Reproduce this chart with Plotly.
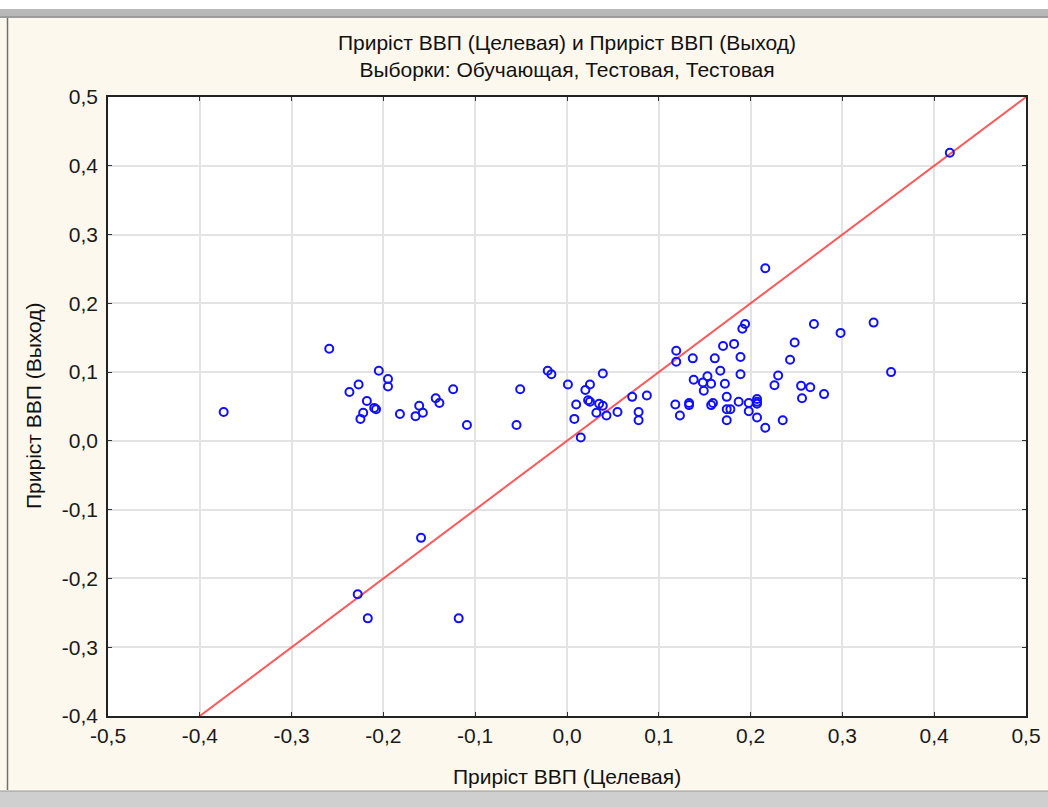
import plotly.graph_objects as go

# Target (x) and network output (y) values
target = [-0.374, -0.259, -0.205, -0.195, -0.195, -0.227, -0.237, -0.218, -0.210, -0.208,
          -0.222, -0.225, -0.182, -0.161, -0.165, -0.157, -0.143, -0.139, -0.124, -0.109,
          -0.051, -0.055, -0.021, -0.017, 0.001, 0.010, 0.008, 0.015, 0.025, 0.020,
          0.039, 0.023, 0.025, 0.035, 0.039, 0.032, 0.043, 0.055, 0.071, 0.087,
          0.078, 0.078, 0.119, 0.119, 0.118, 0.123, 0.216, 0.194, 0.191, 0.269,
          0.334, 0.298, 0.248, 0.243, 0.230, 0.226, 0.255, 0.265, 0.280, 0.256,
          0.235, 0.216, 0.207, 0.207, 0.207, 0.207, 0.198, 0.198, 0.187, 0.189,
          0.189, 0.182, 0.170, 0.161, 0.167, 0.137, 0.138, 0.153, 0.148, 0.157,
          0.149, 0.172, 0.174, 0.133, 0.133, 0.157, 0.159, 0.174, 0.178, 0.174,
          0.353, -0.159, -0.228, -0.217, -0.118, 0.417]
output = [0.042, 0.134, 0.102, 0.090, 0.079, 0.082, 0.071, 0.058, 0.048, 0.046,
          0.041, 0.032, 0.039, 0.051, 0.036, 0.041, 0.062, 0.055, 0.075, 0.023,
          0.075, 0.023, 0.102, 0.097, 0.082, 0.053, 0.032, 0.005, 0.082, 0.074,
          0.098, 0.059, 0.057, 0.054, 0.051, 0.041, 0.037, 0.042, 0.064, 0.066,
          0.042, 0.030, 0.131, 0.115, 0.053, 0.037, 0.251, 0.170, 0.163, 0.170,
          0.172, 0.157, 0.143, 0.118, 0.095, 0.081, 0.080, 0.078, 0.068, 0.062,
          0.030, 0.019, 0.034, 0.061, 0.057, 0.054, 0.055, 0.043, 0.057, 0.097,
          0.122, 0.141, 0.138, 0.120, 0.102, 0.120, 0.089, 0.094, 0.085, 0.083,
          0.073, 0.083, 0.064, 0.055, 0.052, 0.052, 0.055, 0.046, 0.046, 0.030,
          0.100, -0.141, -0.223, -0.258, -0.258, 0.419]

# Identity (ideal fit) line
line_x = [-0.4, 0.5]
line_y = [-0.4, 0.5]

x_tick_vals = [-0.5, -0.4, -0.3, -0.2, -0.1, 0.0, 0.1, 0.2, 0.3, 0.4, 0.5]
x_tick_text = ["-0,5", "-0,4", "-0,3", "-0,2", "-0,1", "0,0", "0,1", "0,2", "0,3", "0,4", "0,5"]
y_tick_vals = [-0.4, -0.3, -0.2, -0.1, 0.0, 0.1, 0.2, 0.3, 0.4, 0.5]
y_tick_text = ["-0,4", "-0,3", "-0,2", "-0,1", "0,0", "0,1", "0,2", "0,3", "0,4", "0,5"]

title_text = "Приріст ВВП (Целевая) и Приріст ВВП (Выход)<br>Выборки: Обучающая, Тестовая, Тестовая"
x_title = "Приріст ВВП (Целевая)"
y_title = "Приріст ВВП (Выход)"

W, H = 1048, 807
L, R, T, B = 108, 22, 97, 91
pw, ph = W - L - R, H - T - B
FONT = "Liberation Sans, Arial"


def px(x):
    return (x - L) / pw


def py(y):
    return (H - B - y) / ph


fig = go.Figure()
fig.add_trace(go.Scatter(x=line_x, y=line_y, mode="lines",
                         line=dict(color="rgba(255,60,60,0.85)", width=2),
                         hoverinfo="skip", showlegend=False))
fig.add_trace(go.Scatter(x=target, y=output, mode="markers",
                         marker=dict(symbol="circle-open", size=8, color="#1010ff",
                                     line=dict(width=2, color="#1010ff")),
                         showlegend=False))

axis_common = dict(showgrid=True, gridcolor="#e3e3e3", gridwidth=1.5,
                   showline=True, linecolor="#222222", linewidth=1.5, mirror="ticks",
                   ticks="inside", ticklen=4, tickcolor="#333333",
                   zeroline=False, automargin=False,
                   tickfont=dict(family=FONT, size=21, color="#1a1a1a"))

shapes = [
    # top window bar
    dict(type="rect", xref="paper", yref="paper", x0=px(0), x1=px(W), y0=py(18), y1=py(0),
         fillcolor="#ffffff", line=dict(width=0), layer="above"),
    dict(type="rect", xref="paper", yref="paper", x0=px(0), x1=px(W), y0=py(18), y1=py(9),
         fillcolor="#b8b8b8", line=dict(width=0), layer="above"),
    dict(type="line", xref="paper", yref="paper", x0=px(0), x1=px(W), y0=py(17), y1=py(17),
         line=dict(color="#808080", width=1), layer="above"),
    # left window border
    dict(type="line", xref="paper", yref="paper", x0=px(7.5), x1=px(7.5), y0=py(790), y1=py(18),
         line=dict(color="#707070", width=1.5), layer="above"),
    # bottom window bar
    dict(type="rect", xref="paper", yref="paper", x0=px(0), x1=px(W), y0=py(H), y1=py(791),
         fillcolor="#cfcfcf", line=dict(width=0), layer="above"),
    dict(type="line", xref="paper", yref="paper", x0=px(0), x1=px(W), y0=py(791), y1=py(791),
         line=dict(color="#9a9a9a", width=1), layer="above"),
]

annotations = [
    dict(text=x_title, xref="paper", yref="paper", x=0.5, y=py(776),
         xanchor="center", yanchor="middle", showarrow=False,
         font=dict(family=FONT, size=21, color="#111111")),
    dict(text=y_title, xref="paper", yref="paper", x=px(33), y=py(406),
         xanchor="center", yanchor="middle", showarrow=False, textangle=-90,
         font=dict(family=FONT, size=21, color="#111111")),
]

fig.update_layout(
    width=W, height=H,
    margin=dict(l=L, r=R, t=T, b=B),
    paper_bgcolor="#fdf8ee",
    plot_bgcolor="#ffffff",
    title=dict(text=title_text, x=0.5, xanchor="center", xref="paper",
               y=1 - 50 / H, yanchor="top",
               font=dict(family=FONT, size=21, color="#111111")),
    xaxis=dict(range=[-0.5, 0.5], tickvals=x_tick_vals, ticktext=x_tick_text, **axis_common),
    yaxis=dict(range=[-0.4, 0.5], tickvals=y_tick_vals, ticktext=y_tick_text,
               ticklabelstandoff=4, **axis_common),
    shapes=shapes,
    annotations=annotations,
)

fig.write_html("out.html")
